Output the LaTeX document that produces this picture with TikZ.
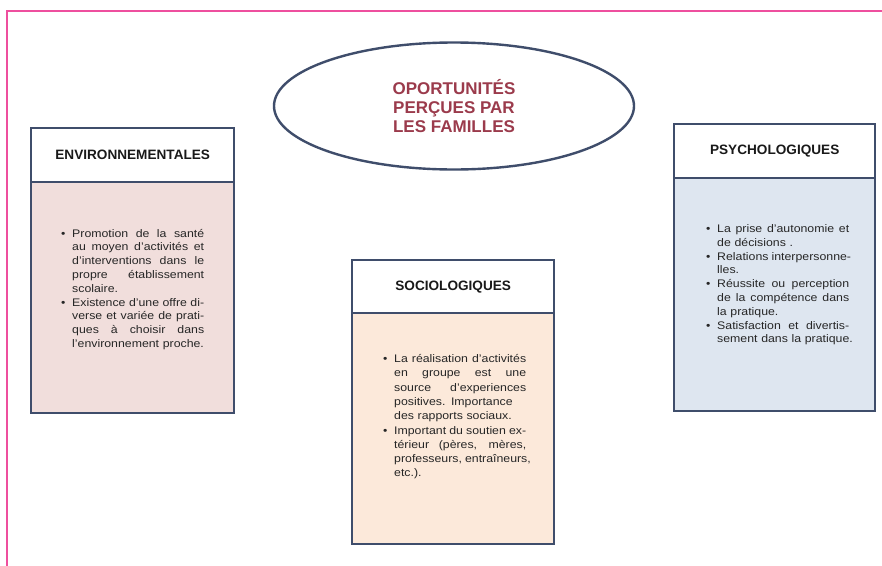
\documentclass[tikz,border=0pt]{standalone}
\usepackage{fontspec}
\setmainfont{Liberation Sans}
\newfontfamily\bodyfont{Liberation Sans}[FakeStretch=1.12]
\newfontfamily\headfont{Liberation Sans}
\usetikzlibrary{shapes.geometric}
\definecolor{framepink}{HTML}{EE4F9E}
\definecolor{boxline}{HTML}{3F4D6B}
\definecolor{fillL}{HTML}{F1DEDC}
\definecolor{fillM}{HTML}{FCE9DA}
\definecolor{fillR}{HTML}{DEE6F0}
\definecolor{titlered}{HTML}{9B3B4C}
\definecolor{bodytext}{HTML}{262626}
\newlength{\twd}\setlength{\twd}{132pt}
\newcommand\jbox[1]{\hbox to \twd{\spaceskip=0.28em plus 1fil\relax #1}}
\newcommand\bl[1]{\noindent\hbox to 11pt{•\hfil}\jbox{#1}\par}
\newcommand\cl[1]{\noindent\hbox to 11pt{\hfil}\jbox{#1}\par}
\newcommand\lastl[1]{\noindent\hbox to 11pt{\hfil}\hbox{#1}\par}
\tikzset{
  framestyle/.style={draw=framepink, line width=1.8pt},
  hdr/.style={draw=boxline, line width=2.4pt, fill=white, anchor=north west, inner sep=0pt,
    font=\headfont\bfseries\fontsize{13.6}{16}\selectfont, text=black!90},
  bodybox/.style={draw=boxline, line width=2.4pt, anchor=north west, inner sep=0pt},
  txt/.style={anchor=base west, inner sep=0pt, text width=150pt, text=bodytext,
    font=\bodyfont\fontsize{11}{13.8}\selectfont},
  titlestyle/.style={ellipse, draw=boxline, line width=2.4pt, minimum width=360pt, minimum height=127pt,
    inner sep=0pt, align=center, text=titlered, font=\bfseries\fontsize{17}{19}\selectfont}
}
\begin{document}
\begin{tikzpicture}[x=1pt,y=-1pt]
\useasboundingbox (0,0) rectangle (882,565);
\fill[white] (0,0) rectangle (882,565);
\draw[framestyle] (7,580) -- (7,11) -- (900,11);

\node[titlestyle] (title) at (454,106) {OPORTUNITÉS\\PERÇUES PAR\\LES FAMILLES};

% left box
\node[bodybox, fill=fillL, minimum width=203pt, minimum height=231pt] (envb) at (30,181) {};
\node[hdr, minimum width=203pt, minimum height=54pt] (envh) at (30,127) {ENVIRONNEMENTALES};
\node[txt] (envt) at (61,237) {%
\bl{Promotion de la santé}
\cl{au moyen d’activités et}
\cl{d’interventions dans le}
\cl{propre établissement}
\lastl{scolaire.}
\bl{Existence d’une offre di-}
\cl{verse et variée de prati-}
\cl{ques à choisir dans}
\lastl{l’environnement proche.}};

% middle box
\node[bodybox, fill=fillM, minimum width=202pt, minimum height=231pt] (socb) at (351,312) {};
\node[hdr, minimum width=202pt, minimum height=53pt] (soch) at (351,259) {SOCIOLOGIQUES};
\node[txt, font=\bodyfont\fontsize{11}{14.3}\selectfont] (soct) at (383,362.5) {%
\bl{La réalisation d’activités}
\cl{en groupe est une}
\cl{source d’experiences}
\cl{positives. Importance}
\lastl{des rapports sociaux.}
\bl{Important du soutien ex-}
\cl{térieur (pères, mères,}
\cl{professeurs, entraîneurs,}
\lastl{etc.).}};

% right box
\node[bodybox, fill=fillR, minimum width=201pt, minimum height=233pt] (psyb) at (673,177) {};
\node[hdr, minimum width=201pt, minimum height=54pt] (psyh) at (673,123) {PSYCHOLOGIQUES};
\node[txt] (psyt) at (706,232.5) {%
\bl{La prise d’autonomie et}
\lastl{de décisions .}
\bl{Relations interpersonne-}
\lastl{lles.}
\bl{Réussite ou perception}
\cl{de la compétence dans}
\lastl{la pratique.}
\bl{Satisfaction et divertis-}
\lastl{sement dans la pratique.}};
\end{tikzpicture}
\end{document}
